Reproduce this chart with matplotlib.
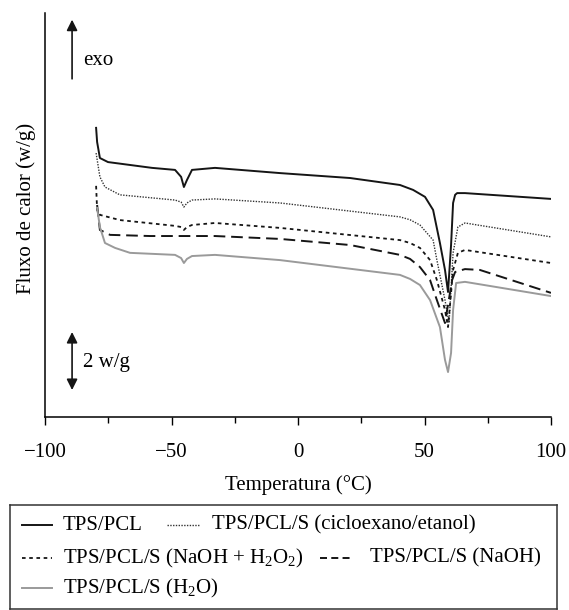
import matplotlib
matplotlib.use("Agg")
import matplotlib.pyplot as plt
from matplotlib.ticker import MultipleLocator

plt.rcParams['font.family'] = ['Liberation Serif', 'DejaVu Serif']
plt.rcParams['mathtext.fontset'] = 'custom'
plt.rcParams['mathtext.rm'] = 'Liberation Serif'
plt.rcParams['mathtext.default'] = 'regular'

# ---------------- data (Temperature °C, heat flow w/g, relative offsets) ----------------
T_pcl = [-79.8, -79.4, -78.3, -75.1, -57.7, -48.6, -46.2, -45.1, -43.9, -41.9, -32.8, -7.1,
         20.6, 40.3, 45.5, 50.2, 53.4, 56.1, 58.1, 59.3, 60.5, 61.3, 62.1, 62.9, 66.0, 100]
Q_pcl = [9.97, 9.48, 8.93, 8.79, 8.59, 8.52, 8.28, 7.93, 8.17, 8.52, 8.59, 8.41,
         8.24, 8.00, 7.83, 7.59, 7.14, 6.00, 5.07, 4.31, 5.93, 7.38, 7.66, 7.72, 7.72, 7.52]

T_cic = [-79.8, -78.3, -76.3, -70.4, -48.6, -46.2, -45.1, -43.9, -41.9, -32.8, -7.1,
         40.3, 44.3, 48.2, 53.4, 54.9, 58.1, 59.7, 61.3, 63.2, 66.0, 100]
Q_cic = [9.10, 8.28, 7.93, 7.66, 7.48, 7.41, 7.24, 7.38, 7.48, 7.52, 7.38,
         6.90, 6.80, 6.62, 6.10, 5.41, 4.03, 3.24, 5.66, 6.55, 6.69, 6.21]

T_nh = [-79.8, -79.4, -78.3, -70.4, -48.6, -46.2, -45.1, -43.9, -41.9, -32.8, -7.1,
        40.3, 44.3, 48.2, 52.2, 54.9, 58.1, 59.3, 61.3, 63.2, 66.0, 100]
Q_nh = [7.97, 7.14, 6.97, 6.79, 6.59, 6.55, 6.45, 6.55, 6.62, 6.69, 6.52,
        6.10, 6.00, 5.83, 5.41, 4.72, 3.69, 3.10, 5.07, 5.66, 5.76, 5.31]

T_naoh = [-79.4, -78.3, -74.3, -58.5, -32.8, -7.1, 20.6, 40.3, 44.3, 48.2, 52.2, 54.9,
          58.1, 60.9, 62.1, 66.0, 71.9, 100]
Q_naoh = [7.31, 6.45, 6.28, 6.24, 6.24, 6.14, 5.93, 5.59, 5.45, 5.17, 4.72, 4.03,
          3.24, 4.72, 5.00, 5.10, 5.07, 4.28]

T_h2o = [-79.4, -78.3, -76.3, -72.3, -66.4, -48.6, -46.2, -45.1, -43.9, -41.9, -32.8, -7.1,
         40.3, 44.3, 48.2, 52.2, 56.1, 58.1, 59.3, 60.5, 61.3, 62.5, 66.0, 100]
Q_h2o = [7.21, 6.55, 6.00, 5.83, 5.66, 5.59, 5.48, 5.31, 5.45, 5.55, 5.59, 5.41,
         4.90, 4.76, 4.55, 4.03, 3.10, 1.97, 1.55, 2.21, 3.69, 4.62, 4.66, 4.17]

labels = ['TPS/PCL', 'TPS/PCL/S (cicloexano/etanol)', r'TPS/PCL/S (NaOH + H$_2$O$_2$)',
          'TPS/PCL/S (NaOH)', r'TPS/PCL/S (H$_2$O)']
x_ticks = [-100, -50, 0, 50, 100]
scale_bar = 2.0  # w/g

# ---------------- styles ----------------
styles = [
    dict(color='#151515', lw=1.4, ls='-'),
    dict(color='#333333', lw=1.0, ls=(0, (1, 1))),
    dict(color='#151515', lw=1.3, ls=(0, (2, 2))),
    dict(color='#151515', lw=1.4, ls=(0, (6, 3))),
    dict(color='#9a9a9a', lw=1.4, ls='-'),
]
legend_styles = [dict(s) for s in styles]
legend_styles[3]['ls'] = (0, (3.6, 2.2))

W, H = 569, 610
fig = plt.figure(figsize=(W / 100, H / 100), dpi=100)
ax = fig.add_axes([45 / W, 1 - 417 / H, (551 - 45) / W, (417 - 13) / H])

series = [(T_pcl, Q_pcl), (T_cic, Q_cic), (T_nh, Q_nh), (T_naoh, Q_naoh), (T_h2o, Q_h2o)]
for (t, q), st in zip(series, styles):
    ax.plot(t, q, **st)

ax.set_xlim(-100, 100)
ax.set_ylim(0, 13.93)
ax.set_xticks(x_ticks)
ax.xaxis.set_minor_locator(MultipleLocator(25))
ax.tick_params(axis='x', which='major', direction='out', length=6, width=1, labelsize=15, pad=13)
ax.tick_params(axis='x', which='minor', direction='out', length=4, width=1)
ax.set_yticks([])
for s in ['top', 'right']:
    ax.spines[s].set_visible(False)
for s in ['left', 'bottom']:
    ax.spines[s].set_linewidth(1.1)

ax.set_xlabel('Temperatura (°C)', fontsize=15, labelpad=9)
ax.set_ylabel('Fluxo de calor (w/g)', fontsize=15, va='center')
ax.yaxis.set_label_coords((26 - 45) / 506, (417 - 208) / 404)

# exo arrow
xa = -89.3
ax.annotate('', xy=(xa, 13.7), xytext=(xa, 11.66),
            arrowprops=dict(arrowstyle='-|>', color='#151515', lw=1.2, mutation_scale=16,
                            shrinkA=0, shrinkB=0))
ax.text(-85.0, 12.3, 'exo', fontsize=15, va='center', ha='left')
# scale arrow 2 w/g
y0 = 0.93
ax.annotate('', xy=(xa, y0 + scale_bar), xytext=(xa, y0),
            arrowprops=dict(arrowstyle='<|-|>', color='#151515', lw=1.2, mutation_scale=16,
                            shrinkA=0, shrinkB=0))
ax.text(-85.0, y0 + scale_bar / 2 - 0.05, '2 w/g', fontsize=15, va='center', ha='left')

# ---------------- legend box (manual layout) ----------------
lx0, lx1, ly0, ly1 = 10, 557, 505, 609
lax = fig.add_axes([lx0 / W, 1 - ly1 / H, (lx1 - lx0) / W, (ly1 - ly0) / H])
lax.set_xlim(lx0, lx1)
lax.set_ylim(ly1, ly0)
lax.set_xticks([])
lax.set_yticks([])
for s in lax.spines.values():
    s.set_linewidth(1.1)
    s.set_color('#333333')

entries = [  # (line x0, line x1, text x, y)
    (22, 52, 63, 525),
    (167, 200, 212, 525),
    (22, 52, 63, 558),
    (320, 350, 370, 558),
    (22, 52, 63, 588),
]
for (x0, x1, xt, yy), st, lab in zip(entries, legend_styles, labels):
    lax.plot([x0, x1], [yy, yy], **st)
    lax.text(xt, yy, lab, fontsize=15, va='center', ha='left')

fig.savefig('out.png', dpi=100)
